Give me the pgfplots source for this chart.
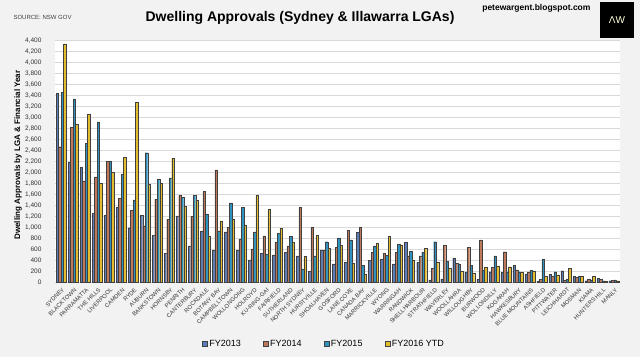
\documentclass[border=0pt]{standalone}
\usepackage{fontspec}
\setmainfont{Liberation Sans}
\usepackage{pgfplots}
\pgfplotsset{compat=1.18}
\usepackage{pgfplotstable}

\definecolor{bgc}{HTML}{F2F2F2}
\definecolor{cA}{HTML}{5B7DB9}
\definecolor{cB}{HTML}{C0785A}
\definecolor{cC}{HTML}{2E93C0}
\definecolor{cD}{HTML}{E2BC2C}
\definecolor{gridc}{HTML}{D9D9D9}

\pgfplotstableread{
x FYa FYb FYc FYd
0 3440 2470 3460 4340
1 2190 2820 3340 2880
2 2090 1845 2530 3060
3 1256 1920 2920 1800
4 1214 2200 2200 2000
5 1360 1530 1970 2280
6 995 1310 1500 3280
7 1214 1030 2360 1790
8 850 1517 1880 1800
9 530 1150 1900 2260
10 1208 1584 1545 1380
11 662 1200 1584 1500
12 935 1651 1247 847
13 586 2046 935 1117
14 917 1005 1445 1147
15 586 789 1360 1035
16 407 607 917 1584
17 530 847 507 1332
18 498 737 895 986
19 549 665 838 728
20 480 1366 243 470
21 203 1005 480 850
22 589 577 740 622
23 334 637 810 668
24 364 941 771 352
25 910 1002 313 140
26 400 546 662 704
27 422 528 495 838
28 334 546 692 680
29 728 480 570 407
30 364 480 546 619
31 42 255 740 358
32 61 668 388 255
33 443 346 334 206
34 188 637 310 170
35 55 771 218 267
36 194 267 480 297
37 182 558 194 285
38 310 225 194 182
39 152 188 218 206
40 24 55 419 109
41 146 103 194 134
42 212 40 60 249
43 109 85 103 109
44 30 61 42 109
45 73 49 30 24
46 30 36 42 30
}\data

\begin{document}
\begin{tikzpicture}
\fill[bgc] (-55pt,-74.7pt) rectangle (585pt,282.3pt);
\useasboundingbox (-55pt,-74.7pt) rectangle (585pt,282.3pt);
\begin{axis}[
  scale only axis, width=565pt, height=241.6pt,
  ybar=0pt, bar width=2.5pt,
  xmin=-0.5, xmax=46.5, ymin=0, ymax=4400,
  ytick={0,200,...,4400},
  xtick={0,...,46},
  xticklabels={SYDNEY,BLACKTOWN,PARRAMATTA,THE HILLS,LIVERPOOL,CAMDEN,RYDE,AUBURN,BANKSTOWN,HORNSBY,PENRITH,CANTERBURY,ROCKDALE,BOTANY BAY,CAMPBELLTOWN,WOLLONGONG,HOLROYD,KU-RING-GAI,FAIRFIELD,SUTHERLAND,NORTH SYDNEY,HURSTVILLE,SHOALHAVEN,GOSFORD,LANE COVE,CANADA BAY,MARRICKVILLE,WYONG,WARRINGAH,RANDWICK,SHELLHARBOUR,STRATHFIELD,WAVERLEY,WOOLLAHRA,WILLOUGHBY,BURWOOD,WOLLONDILLY,KOGARAH,HAWKESBURY,BLUE MOUNTAINS,ASHFIELD,PITTWATER,LEICHHARDT,MOSMAN,KIAMA,HUNTERS HILL,MANLY},
  xticklabel style={font=\fontsize{5.8}{6}\selectfont, text=black!80, inner sep=0pt, yshift=-5pt, xshift=1pt, anchor=north east, rotate=45},
  yticklabel style={font=\fontsize{6.5}{7}\selectfont, text=black!80, xshift=-10pt},
  /pgf/number format/assume math mode=true,
  /pgf/number format/1000 sep={,},
  scaled y ticks=false,
  ymajorgrids, grid style={gridc, line width=0.6pt},
  axis line style={draw=none},
  major tick length=0pt,
  axis background/.style={fill=white},
  legend columns=4,
  legend style={at={(axis description cs:0.476,-0.2554)}, anchor=center, draw=none, fill=none,
    font=\fontsize{9}{10}\selectfont, /tikz/every even column/.append style={column sep=20pt}},
  sq/.style={legend image code/.code={\draw[##1] (0pt,-2.5pt) rectangle (5pt,2.5pt);}},
]
\addplot[fill=cA, draw=black!75, line width=0.3pt, sq] table[x=x,y=FYa]{\data};
\addplot[fill=cB, draw=black!75, line width=0.3pt, sq] table[x=x,y=FYb]{\data};
\addplot[fill=cC, draw=black!75, line width=0.3pt, sq] table[x=x,y=FYc]{\data};
\addplot[fill=cD, draw=black!75, line width=0.3pt, sq] table[x=x,y=FYd]{\data};
\legend{FY2013,FY2014,FY2015,FY2016 YTD}
\end{axis}
\node[font=\bfseries\fontsize{14}{16}\selectfont] at (245pt,264.3pt) {Dwelling Approvals (Sydney \& Illawarra LGAs)};
\node[anchor=west, font=\fontsize{6}{7}\selectfont, text=black!75] at (-45pt,265.3pt) {SOURCE: NSW GOV};
\node[anchor=east, font=\bfseries\fontsize{8.5}{9}\selectfont] at (539pt,274.3pt) {petewargent.blogspot.com};
\fill[black] (545pt,244.3pt) rectangle (579pt,280.3pt);
\node[text=white!85!yellow, font=\fontsize{10}{11}\selectfont] at (562pt,262.3pt) {ΛW};
\node[rotate=90, font=\bfseries\fontsize{8}{9}\selectfont] at (-37pt,127.3pt) {Dwelling Approvals by LGA \& Financial Year};
\end{tikzpicture}
\end{document}
